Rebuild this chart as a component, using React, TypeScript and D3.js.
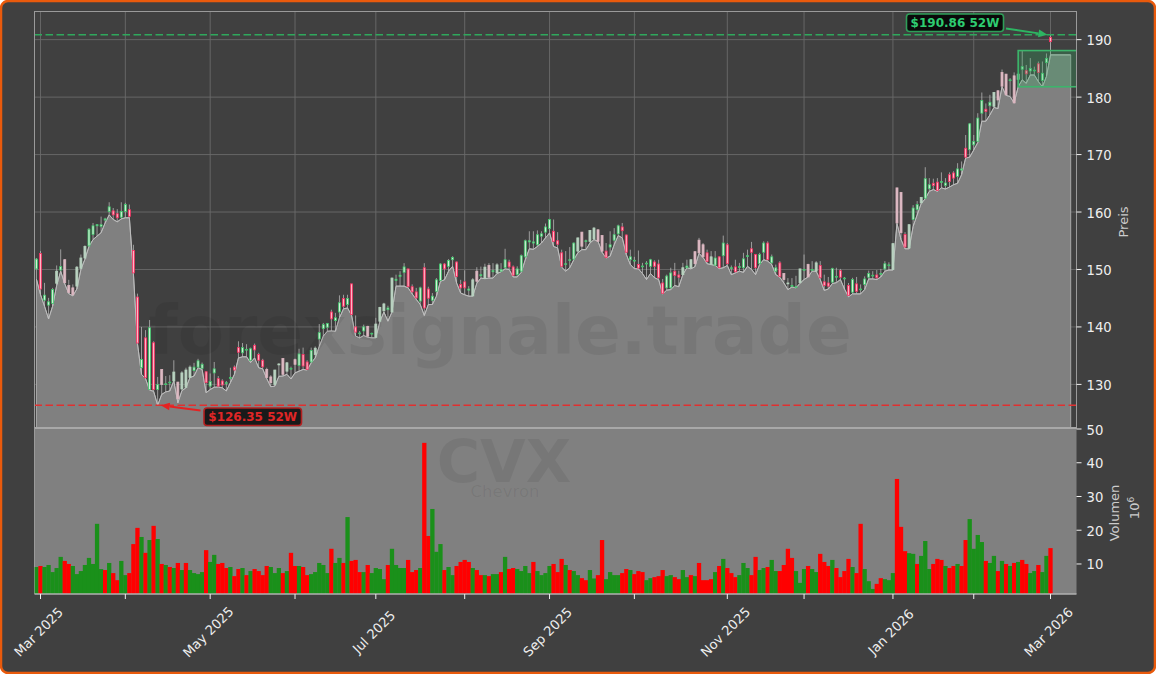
import React from "react";
import * as d3 from "d3";

const firstIndex = -1;
const opens = [
150.1,152.77,144.66,143.8,144.1,147.6,149.9,151.7,147.2,146.8,
147.1,150.2,152,154.1,156.1,157.6,157.5,158.6,160.1,160.2,
159.7,159.1,160.1,160.4,153.3,145.2,132.9,138.1,129.1,137.25,
129.1,132.6,130,130.3,130.6,130.4,129.2,129.5,131.2,132.4,
133,132.8,132.2,129.7,132,131,130.6,130.2,131.1,133,
136.4,135.5,136,134.2,136.8,135.2,134.2,132.6,131.3,130,
133.4,134.5,132.3,132.7,134.3,133.3,135.2,133.9,133.9,135.2,
137.9,139.7,139.95,142.6,141.1,142.6,144.95,143.9,147.5,140,
138.85,139.3,140.1,138.8,138.2,141,142.8,143,142.6,148.1,
148.8,149.5,150.1,147,146.1,144.5,150.3,146.6,144.65,146.2,
148.1,150.95,150.55,151.7,151.3,147.4,147.85,146.4,145.4,149.7,
148.9,148.5,150.7,149.6,149.4,149.7,150.3,151.3,150.45,149.1,
149.7,152.2,154.8,154.6,154.3,155.8,156.5,157.1,156.65,155,
152.9,150.9,151.6,151.8,153.2,156.5,154.9,154.9,155.3,156.9,
155.9,153.2,153.9,155.1,156.2,157.4,156,151.7,151.5,150.85,
150.5,151,150.55,151.3,150.95,147.65,146.8,146.8,149.7,149.05,
149.1,150.3,150.3,153.1,155.1,154.3,152.9,150.9,150.75,152.2,
152.4,154.3,150.2,150.45,150.4,150.3,152.3,153.6,152.6,151,
153,154.6,151.15,149.7,151.15,149.3,147.5,147.1,146.9,147.7,
149.9,150.85,149.9,149.7,150.7,147.85,147.65,147.8,148.7,149.8,
148.4,147.2,146.05,147.5,146.5,147.4,148.65,148.9,149.05,149.2,
150.1,150.7,150,164.2,163.4,156.1,153.75,158.7,160.4,161.6,
162.4,164.05,165,165.2,165.2,164.65,166.5,166.8,166.2,167.3,
171.1,170.85,171.7,172.3,177.2,177.9,178.5,178.4,181.1,184.3,
184,182.9,183.7,183.1,184.85,184.6,184.55,184.6,185.8,182.9,
186,190.4];
const highs = [
152,153.2,147.67,145.06,146.8,150.7,153.5,151.8,148.2,147.4,
150.6,152.6,154.2,157.2,158.1,157.9,159.2,159,161.7,160.7,
160.5,161.7,161.6,161.3,154.3,145.8,140,139.45,141.2,137.5,
131.3,132.6,131.45,131.6,134.2,130.4,132.3,132.9,133.3,133.75,
134.45,133.8,132.3,131.9,133.9,131.45,130.9,130.6,132.9,133.3,
137.5,137.2,137,136.4,137.1,135.5,134.45,132.9,131.6,132.5,
133.7,134.5,133.9,133.1,134.5,136.2,136.4,134.2,136.4,136.6,
140.5,140.7,140.7,143,142.45,145.5,145.6,145.6,147.5,142,
139.3,140.4,140.2,139,141.6,143.5,144.2,143.7,148.6,149.1,
149.7,151.1,150.1,147.4,146.8,147,151.1,147,145.9,148.5,
151.1,151.1,151.8,152.3,151.4,148.2,149.85,147.1,148.5,150.4,
150.5,151,151.1,151.1,151.1,151.1,153.6,151.7,150.7,150.55,
152.6,155.2,156.65,156.65,156.8,156.65,158,158.8,158.7,156.5,
153.45,153.2,153.9,154.7,155.5,156.5,155.2,156.8,157.4,157,
156,154.6,156.65,157.2,157.8,158.1,156.1,153.45,152.2,153.3,
151.15,151.45,151.85,151.6,151.7,148.35,149.1,150.3,151.15,149.8,
151.15,151.7,151.7,153.1,155.5,154.6,153.45,153.2,153.2,152.3,
155.9,154.6,150.7,151.7,151.15,152.9,153.45,154.8,152.7,152.9,
154.9,154.9,152.6,150.85,151.45,149.3,148.5,148.5,148.9,150.1,
152.6,151,151.45,151.45,151.45,149.1,148.7,150.3,150.3,150.1,
148.7,147.65,148.55,148.7,147.4,148.8,149.8,149.7,149.9,150.1,
151.45,151.25,154.5,164.2,163.5,156.5,157.8,161.2,161.9,162.6,
167.8,165.9,165.8,165.9,166.9,165.9,166.9,167.1,168.5,168.8,
173.4,175.5,173.4,177.2,180.8,178.9,180.4,180.8,181.2,184.8,
184,183.3,184.3,184,188.1,185.6,186.8,185.3,186.2,186.2,
187.6,190.86];
const lows = [
148.3,145.6,143.6,141.4,143.6,147.2,149.7,147.5,145.8,145.4,
146.6,150,151.8,154,155.2,155.8,156.4,158.1,159.5,158.7,
158.3,158.8,159,159,149.3,137.1,131.75,131,129,128.8,
126.35,128.25,128.7,128.85,130.6,126.8,128.9,129.4,131.2,131.45,
132.9,132.6,128.55,129.1,129.5,129.55,129.4,128.85,130.3,131.75,
134.6,134.8,134.8,133.8,134.6,132.9,132.7,131,129.6,129.7,
131.4,131.45,131.75,130.95,132,132.3,132.6,132.5,133.75,134.6,
136.6,138.4,139.25,139.3,139.25,141.6,143.15,143.3,142,138.4,
138.1,138.5,138.2,138.1,138.1,140.9,142.6,141,142.6,147.1,
147.1,147.1,146.8,145.75,144.8,143.9,142,143.9,143.9,145.35,
147.95,148.2,149.7,150.55,147.65,145.9,145.6,145.35,145.35,147.6,
148.5,148.4,148.5,148.5,149.3,149.6,150.1,150,148.7,148.7,
149.5,151.7,153.6,153.5,154,154.6,155.5,156.35,154,153.75,
150.4,149.7,150.3,151.7,152.9,153.45,153.45,154.6,155.2,154.9,
153,152,152.3,154.3,155.9,155.5,152.6,150.85,150.15,150.1,
149.3,148.25,149.3,148.55,148.25,145.75,146.4,146.5,147.2,147,
149.1,150.3,150.1,150.5,152.8,152.1,151,150.85,150.7,150.15,
150.3,150.7,149.1,149.4,149.7,149.5,150.55,150,149.1,150.85,
151.7,151.45,150.85,149.1,148.65,147.65,146.5,146.95,146.8,147.6,
148.25,148.7,149.7,149.7,148.25,146.35,146.6,147.55,147.7,148.25,
146.6,145.25,145.75,145.75,145.75,146.5,148.35,148.35,148.25,148.7,
149.7,149.9,149.9,158,155.2,153.6,153.6,157.5,159.5,161.5,
162.3,163.6,163.9,163.6,164.2,164,164.35,164.75,165,166.5,
169.4,169.55,170.8,172.1,175.8,175.8,176.9,178.2,178,181.8,
180.3,180.1,178.95,181.8,183,182.4,183.85,183.85,182.7,181.8,
183.6,187.35];
const closes = [
151.8,146.6,145.53,144.37,146.5,149.7,150.5,147.7,146,145.6,
150.4,152,154,157,157.6,157.8,157.8,158.8,160.9,159.5,
159,160.1,161.3,159.25,149.4,137.2,134.35,131.15,139.85,129.1,
129.95,130,130.1,130.4,132.15,127.5,132,132.5,133,133,
134.1,133.5,130.3,130.5,132.7,129.7,129.9,130.3,131.2,132.5,
135.6,136.4,136.1,136.2,136,134.2,133.05,131.2,130.3,132.5,
133.55,131.75,133.75,132.8,133.5,135.3,133.2,132.6,135.9,136.3,
139,140.4,140.6,141.4,141.6,144.2,143.6,144.95,142.15,139.1,
138.95,140,138.4,138.9,140.5,143.4,144,143.3,148.5,148.3,
149,150.45,147,146.1,145.05,146.8,143.3,145,145.35,148.2,
150.95,150.1,151.55,152.1,148.8,146.8,146.8,146.6,148.2,147.95,
149.1,150.4,148.7,149.8,150.8,150,151.7,150.45,149,150.1,
152.4,155,155,154.8,156.05,156.2,157.4,158.7,154.9,154.4,
150.55,151,151.7,154.6,155.5,154.05,155,156.8,157.2,154.9,
153.2,152.1,154.3,156.05,157.6,156.75,153,152.2,151.6,150.25,
150.6,151.1,151.7,150.55,148.55,145.85,148.85,149.4,148.95,148.65,
150.3,150.6,151.7,151,152.9,152.2,151.4,152.2,152,150.3,
154.6,151,150.3,149.6,150.5,151.85,152.4,153,150.3,152.6,
154.6,151.7,152.2,150.3,148.8,148.25,147.65,147.2,147,150.1,
150,148.7,150,151.15,148.55,147.2,147.1,150.15,148.8,148.65,
148.5,145.5,148.25,146.2,146.6,148.35,149.3,149,148.55,149.3,
151,150.8,154.5,158.1,156.4,153.9,157.8,160.7,161.3,162.55,
165.8,164.75,164.6,163.75,165.3,165.05,165.3,165.9,167.5,167.5,
169.55,175.35,172.3,176.35,179.4,177.5,179.1,180.8,179.5,181.9,
180.4,183,179,184,185.3,184.05,185,184.7,184.3,184.15,
186.75,189.65];
const volumes = [
9.1,9.4,9.1,9.7,7.6,8.8,12.1,10.9,10,9.4,
7,7.9,9.7,11.8,10,21.9,8.5,8.2,10.3,7.3,
5.2,10.9,6.7,7.3,15.9,20.7,18,13.3,17.1,21.3,
17.4,10,9.7,9.1,8.8,10.3,8.2,10.3,8.2,7.3,
7,7.6,14.1,10.6,12.7,10,10.3,8.8,9.1,6.4,
8.5,8.8,6.7,7.9,8.5,7.9,6.7,9.4,9.1,7.3,
8.8,7.3,7.9,13.3,9.4,9.4,9.1,6.7,7,7.6,
10.3,9.7,7.3,14.5,10.3,11.8,10.3,23.9,10.9,11.2,
7.6,7.6,9.7,7.3,8.8,8.5,5.5,9.7,14.5,9.7,
8.8,8.8,11.2,7.6,8.2,8.8,45.9,18.3,26.3,13.6,
15.9,8.2,9.1,6.7,9.4,10.6,11.2,10.6,8.8,8.2,
6.7,6.7,6.4,7,7,7.6,12.1,8.5,8.8,8.5,
7.9,9.4,7.3,10.6,7.9,6.7,7.3,9.4,10,7.6,
11.5,9.7,8.2,7.9,6.7,5.8,5.2,8.2,5.7,6.7,
17.1,5.5,7.6,6.7,6.7,7.3,8.5,8.2,7,7.9,
7.6,5.2,5.8,6.1,6.4,8.2,6.4,6.7,6.1,5.5,
8.2,6.1,6.7,6.4,10.3,5.2,5.2,5.5,7.6,9.4,
11.5,8.8,7.3,6.1,6.7,10.3,8.8,6.7,12.1,8.2,
8.8,9.1,11.2,7.9,7.9,9.7,14.5,11.8,7.9,4.4,
8.5,9.4,8.5,7.6,13,10.6,9.4,11.2,8.8,6.1,
7.9,11.5,9.1,7.3,21.9,8.5,4.9,2.6,4.1,5.8,
5.5,5.2,7.3,35.2,21,13.8,13.2,13,10,12.4,
16.8,8.5,10,11.5,11.2,9.4,8.8,9.4,10,9.4,
17.1,23.3,14.5,18.6,16.5,10.9,10.3,12.4,7.9,10.9,
10,9.4,10.3,10.6,11.2,10,7.3,7.9,9.7,7.6,
12.4,14.7];
const volumeSides =
  "grgggggrrg" +
  "gggggggrgr" +
  "rggrrrgrgr" +
  "grgrgrgrgg" +
  "ggrggrrrgr" +
  "rgrgrrrrgg" +
  "grgrrgrrgg" +
  "gggrggrgrr" +
  "rgrggggrgg" +
  "ggrrrgrrgg" +
  "grggrrrrgr" +
  "rgrggrgrrg" +
  "gggrggggrr" +
  "rgrggrrggr" +
  "rggggrrgrr" +
  "rggrrrggrr" +
  "ggrgrrrrgr" +
  "grrrgggrrg" +
  "grggrrrrgg" +
  "grggrrrgrr" +
  "rrgrrgggrr" +
  "gggrrrggrg" +
  "ggrrrgrrgr" +
  "rggggrggrg" +
  "rgrgrrggrg" +
  "gr";
const paleCandles = [4,6,7,8,9,10,11,30,33,34,35,36,37,56,57,58,59,60,61,63,68,81,83,84,85,87,107,108,110,111,113,133,134,136,137,138,139,159,161,162,163,164,166,184,185,188,190,192,211,212,213,215,218,236,237,238,239,241,242];
const tickIndices = [0,21,42,63,83,105,126,147,170,189,211,231,250];
const tickLabels: Record<number,string> = {0:"Mar 2025",42:"May 2025",83:"Jul 2025",126:"Sep 2025",170:"Nov 2025",211:"Jan 2026",250:"Mar 2026"};
const priceTicks = [130,140,150,160,170,180,190];
const volumeTicks = [10,20,30,40,50];
const yearHigh = 190.86;
const yearLow = 126.35;
const rangeFirst = 242;
const rangeLast = 249;
const areaEndIndex = 255;

const BG = "#404040", PANE = "#808080";
const L = 34.5, R = 1076.5, T = 11.5, M = 428, B = 594;
const FONT = "'DejaVu Sans', sans-serif";
const GREEN = "#2fa85c", RED = "#e03030";

const x = d3.scaleLinear().domain([0, 250]).range([40.5, 1050.5]);
const y = d3.scaleLinear().domain([122.41, 194.9]).range([M, T]);
const v = d3.scaleLinear().domain([1.1, 50.3]).range([B, M]);

const rows = opens.map((o, k) => ({ i: k + firstIndex, o, h: highs[k], l: lows[k], c: closes[k], vol: volumes[k], side: volumeSides[k] }));
const areaPts: [number, number][] = [...rows.map(r => [r.i, r.l] as [number, number]), [areaEndIndex, lows[lows.length - 1]]];
const areaPath = d3.area<[number, number]>().x(d => x(d[0])).y0(M).y1(d => y(d[1]))(areaPts) as string;
const linePath = d3.line<[number, number]>().x(d => x(d[0])).y(d => y(d[1]))(areaPts) as string;
const rangeRows = rows.filter(r => r.i >= rangeFirst && r.i <= rangeLast);
const rangeHigh = d3.max(rangeRows, r => r.h) as number;
const rangeLow = d3.min(rangeRows, r => r.l) as number;
const paleSet = new Set(paleCandles);

function Arrow({ x1, y1, x2, y2, color }: { x1: number; y1: number; x2: number; y2: number; color: string }) {
  const a = Math.atan2(y2 - y1, x2 - x1), s = 9, w = 3.8;
  const bx = x2 - s * Math.cos(a), by = y2 - s * Math.sin(a);
  const nx = -Math.sin(a) * w, ny = Math.cos(a) * w;
  return (
    <g>
      <line x1={x1} y1={y1} x2={bx} y2={by} stroke={color} strokeWidth={2} />
      <path d={`M${x2},${y2}L${bx + nx},${by + ny}L${bx - nx},${by - ny}Z`} fill={color} />
    </g>
  );
}

export default function App() {
  return (
    <svg width={1156} height={674} viewBox="0 0 1156 674" style={{ position: "absolute", left: 0, top: 0, display: "block" }} fontFamily={FONT}>
      <defs>
        <clipPath id="top"><rect x={L} y={T} width={R - L} height={M - T} /></clipPath>
        <clipPath id="bot"><rect x={L} y={M} width={R - L} height={B - M} /></clipPath>
      </defs>
      <rect x={1} y={1} width={1154} height={672} rx={7} fill={BG} stroke="#e95a0c" strokeWidth={2.5} />

      {/* grid */}
      <g stroke="#6a6a6a" strokeWidth={0.9}>
        {tickIndices.map(t => <line key={t} x1={x(t)} x2={x(t)} y1={T} y2={M} />)}
        {priceTicks.map(p => <line key={p} x1={L} x2={R} y1={y(p)} y2={y(p)} />)}
      </g>

      {/* volume pane */}
      <rect x={L} y={M} width={R - L} height={B - M} fill={PANE} />

      {/* low-price area */}
      <path d={areaPath} fill={PANE} stroke="#a8a8a8" strokeWidth={1} />
      <path d={linePath} fill="none" stroke="#bdbdbd" strokeWidth={1} />

      {/* watermarks */}
      <g fill="#000" fillOpacity={0.07} textAnchor="middle" fontWeight="bold">
        <text x={500} y={354} fontSize={67.5}>forexsignale.trade</text>
        <text x={504} y={482} fontSize={59}>CVX</text>
        <text x={505} y={497} fontSize={16.5} fontWeight="normal">Chevron</text>
      </g>

      {/* candles */}
      <g clipPath="url(#top)">
        {rows.map(r => {
          const up = r.c >= r.o;
          const pale = paleSet.has(r.i);
          const cx = x(r.i);
          const top = y(Math.max(r.o, r.c));
          const h = Math.max(0.8, y(Math.min(r.o, r.c)) - top);
          const stroke = pale ? (up ? "#b5d4be" : "#dcb4bf") : up ? "#3fc46a" : "#f52e5f";
          const fill = pale ? (up ? "#bcd0c2" : "#dcbcc4") : up ? "#d4efd9" : "#ffb6c6";
          return (
            <g key={r.i}>
              <line x1={cx} x2={cx} y1={y(r.h)} y2={y(r.l)} stroke="#c4c4c4" strokeWidth={0.7} />
              <rect x={cx - 1} y={top} width={2} height={h} fill={fill} stroke={stroke} strokeWidth={0.8} />
            </g>
          );
        })}
      </g>

      {/* consolidation box */}
      <g clipPath="url(#top)">
        <rect x={x(rangeFirst)} y={y(rangeHigh)} width={R - x(rangeFirst) + 4} height={y(rangeLow) - y(rangeHigh)} fill="#2fa85c" fillOpacity={0.28} stroke="#3cb56b" strokeWidth={1.6} />
      </g>

      {/* 52 week lines */}
      <line x1={L} x2={R} y1={y(yearHigh)} y2={y(yearHigh)} stroke={GREEN} strokeWidth={1.5} strokeDasharray="7.5,3.5" />
      <line x1={L} x2={R} y1={y(yearLow)} y2={y(yearLow)} stroke={RED} strokeWidth={1.5} strokeDasharray="7.5,3.5" />

      {/* spines */}
      <rect x={L} y={T} width={R - L} height={M - T} fill="none" stroke="#9a9a9a" strokeWidth={1} />
      <line x1={L} x2={R} y1={M} y2={M} stroke="#a8a8a8" strokeWidth={2} />
      <line x1={L} x2={L} y1={M} y2={B} stroke="#9a9a9a" strokeWidth={1} />

      {/* volume bars */}
      <g clipPath="url(#bot)">
        {rows.map(r => (
          <rect key={r.i} x={x(r.i) - 2.15} width={4.3} y={v(r.vol)} height={B - v(r.vol)} fill={r.side === "g" ? "#1a901a" : "#ff0000"} />
        ))}
      </g>
      <line x1={L} x2={R} y1={B} y2={B} stroke="#b0b0b0" strokeWidth={1.4} />

      {/* annotations */}
      <Arrow x1={1006} y1={28.5} x2={x(250) - 3} y2={y(yearHigh)} color="#2db562" />
      <Arrow x1={200.5} y1={410.5} x2={x(29) + 3} y2={y(yearLow)} color="#e52222" />
      <rect x={906.5} y={14} width={97} height={17.5} rx={3} fill="#0a0a0a" stroke="#2e9e58" strokeWidth={1.6} />
      <text x={955} y={27} textAnchor="middle" fontSize={12} fontWeight="bold" fill="#2ecc71">$190.86 52W</text>
      <rect x={204} y={408} width={97.5} height={17.5} rx={3} fill="#1a1a1a" stroke="#b32020" strokeWidth={1.6} />
      <text x={252.7} y={421} textAnchor="middle" fontSize={12} fontWeight="bold" fill="#e02626">$126.35 52W</text>

      {/* x axis */}
      <g>
        {tickIndices.map(t => <line key={t} x1={x(t)} x2={x(t)} y1={B} y2={B + 5} stroke="#f0f0f0" strokeWidth={1} />)}
        {tickIndices.filter(t => tickLabels[t]).map(t => (
          <text key={t} transform={`translate(${x(t) - 1.5},632.5) rotate(-45)`} textAnchor="middle" dominantBaseline="middle" fontSize={13.2} fill="#eeeeee">{tickLabels[t]}</text>
        ))}
      </g>

      {/* right axes */}
      <g fill="#eeeeee" fontSize={13.2}>
        {priceTicks.map(p => (
          <g key={p}>
            <line x1={R} x2={R + 5} y1={y(p)} y2={y(p)} stroke="#f0f0f0" strokeWidth={1} />
            <text x={R + 10} y={y(p) + 1.5} dominantBaseline="middle">{p}</text>
          </g>
        ))}
        {volumeTicks.map(p => (
          <g key={p}>
            <line x1={R} x2={R + 5} y1={v(p)} y2={v(p)} stroke="#f0f0f0" strokeWidth={1} />
            <text x={R + 10} y={v(p) + 1.5} dominantBaseline="middle">{p}</text>
          </g>
        ))}
      </g>
      <g fill="#cccccc" fontSize={13} textAnchor="middle">
        <text transform="translate(1124,222) rotate(-90)" dominantBaseline="middle">Preis</text>
        <text transform="translate(1115,513) rotate(-90)" dominantBaseline="middle">Volumen</text>
        <text transform="translate(1135,508) rotate(-90)" dominantBaseline="middle">10<tspan fontSize={9} dy={-4}>6</tspan></text>
      </g>
    </svg>
  );
}
